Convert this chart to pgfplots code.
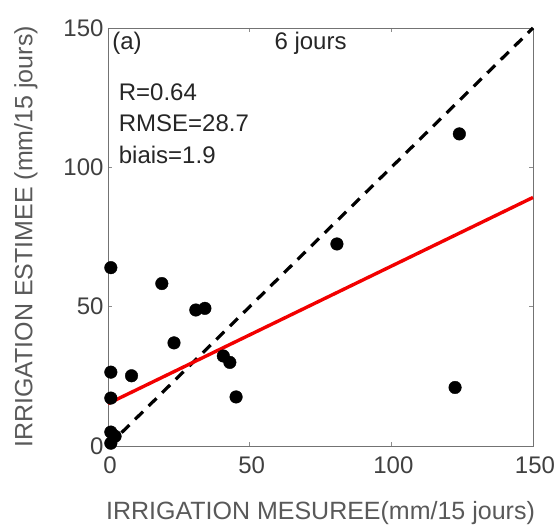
\documentclass[border=0pt]{standalone}
\usepackage{fontspec}
\setmainfont{Liberation Sans}
\usepackage{pgfplots}
\pgfplotsset{compat=1.18}
\begin{document}
\begin{tikzpicture}
\useasboundingbox (-108bp,-81bp) rectangle (449bp,446bp);
\begin{axis}[
  scale only axis,
  width=425bp, height=418bp,
  xmin=0, xmax=150, ymin=0, ymax=150,
  xtick={0,50,100,150}, ytick={0,50,100,150},
  tick align=inside,
  major tick length=4bp,
  tick style={black!45, line width=0.6bp},
  axis line style={black!55, line width=0.8bp},
  /pgf/number format/assume math mode=true,
  ticklabel style={font=\fontsize{24bp}{28bp}\selectfont, text=black!75},
  label style={font=\fontsize{25bp}{30bp}\selectfont, text=black!65},
  xlabel={IRRIGATION MESUREE(mm/15 jours)},
  ylabel={IRRIGATION ESTIMEE (mm/15 jours)},
  xlabel style={at={(axis description cs:0.5,-0.16)}, anchor=center},
  ylabel style={at={(axis description cs:-0.193,0.5)}, anchor=center},
  xticklabel style={yshift=-7bp, xshift=2bp},
  yticklabel style={xshift=-1bp},
  clip=false,
]
\addplot[black, dashed, line width=3.2bp, dash pattern=on 11bp off 8bp] coordinates {(0,0) (150,150)};
\addplot[red!95!black, line width=3.4bp] coordinates {(0,15.2) (150,89.2)};
\addplot[only marks, mark=*, mark size=6.3bp, black] coordinates {
(1,64) (19,58.3) (31,48.8) (34.2,49.4) (23.3,37) (1,26.5) (8.3,25.2)
(40.7,32.3) (43,30) (45.2,17.6) (1,17.2) (1,5) (2.5,3.5) (1,1)
(80.8,72.5) (124,112) (122.5,21)
};
\node[anchor=west, font=\fontsize{24bp}{28bp}\selectfont, text=black!85] at (axis cs:0.3,144.5) {(a)};
\node[anchor=center, font=\fontsize{24bp}{28bp}\selectfont, text=black!85] at (axis cs:71.5,144.5) {6 jours};
\node[anchor=west, font=\fontsize{24bp}{28bp}\selectfont, text=black!85] at (axis cs:2.6,127) {R=0.64};
\node[anchor=west, font=\fontsize{24bp}{28bp}\selectfont, text=black!85] at (axis cs:2.6,115.8) {RMSE=28.7};
\node[anchor=west, font=\fontsize{24bp}{28bp}\selectfont, text=black!85] at (axis cs:2.6,104.6) {biais=1.9};
\end{axis}
\end{tikzpicture}
\end{document}
